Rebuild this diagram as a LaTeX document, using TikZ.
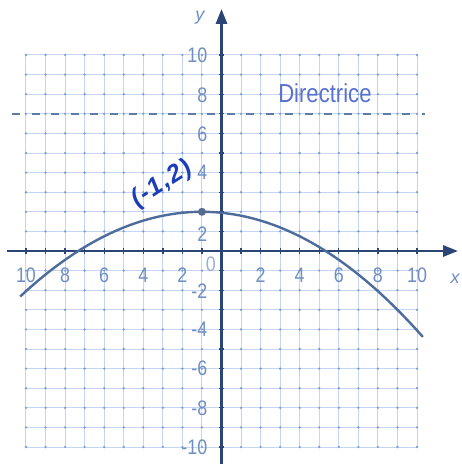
\documentclass[tikz,border=0pt]{standalone}
\usepackage{fontspec}
\setmainfont{Liberation Sans}
\newfontfamily\narrowfont[FakeStretch=0.85]{Liberation Sans}
\usetikzlibrary{arrows.meta}
\definecolor{gridc}{HTML}{C4D6F2}
\definecolor{dotc}{HTML}{7E9DCF}
\definecolor{axisc}{HTML}{2B4676}
\definecolor{labc}{HTML}{6F8EC2}
\definecolor{curvec}{HTML}{4D6C9C}
\definecolor{inkc}{HTML}{1C3DB8}
\tikzset{
  gridline/.style={draw=gridc,line width=1pt},
  gdot/.style={fill=dotc,draw=none},
  axisline/.style={draw=axisc,line width=2.8pt,-{Triangle[length=15pt,width=11pt]}},
  numlab/.style={text=labc,font=\narrowfont\fontsize{21}{21}\selectfont,inner sep=0pt},
  axlab/.style={text=labc,font=\itshape\fontsize{18}{18}\selectfont,inner sep=0pt},
  curve/.style={draw=curvec,line width=2.4pt},
  directrix/.style={draw=curvec!90,line width=2.4pt,dash pattern=on 8pt off 11.5pt},
  handink/.style={text=inkc,font=\bfseries\itshape\fontsize{25}{25}\selectfont,inner sep=0pt}
}
\begin{document}
\begin{tikzpicture}[x=19.55pt,y=19.6pt]
\useasboundingbox[fill=white] (-11.33,-10.867) rectangle (12.251,12.806);
% grid
\foreach \i in {-10,...,10}{
  \draw[gridline] (\i,-10) -- (\i,10);
  \draw[gridline] (-10,\i) -- (10,\i);
}
\foreach \i in {-10,...,10}{
  \foreach \j in {-10,...,10}{
    \fill[gdot] (\i,\j) circle (1.3pt);
  }
}
% directrix
\coordinate (dl) at (-10.7,7);
\coordinate (dr) at (10.4,7);
\draw[directrix] (dl) -- (dr);
\node[text=labc!80!blue,font=\narrowfont\fontsize{26}{26}\selectfont,inner sep=0pt] (dirlab) at (5.29,8.05) {Directrice};
% axes
\coordinate (xl) at (-10.97,0);
\coordinate (xr) at (12.1,0);
\coordinate (yb) at (0,-10.9);
\coordinate (yt) at (0,12.35);
\draw[axisline] (xl) -- (xr);
\draw[axisline] (yb) -- (yt);
\foreach \i in {-10,...,10}{
  \draw[axisc,line width=1.3pt] (\i,-0.15) -- (\i,0.15);
  \draw[axisc,line width=1.3pt] (-0.15,\i) -- (0.15,\i);
}
\node[axlab] (xlab) at (11.95,-1.43) {x};
\node[axlab] (ylab) at (-1.1,11.9) {y};
% x labels
\foreach \v in {2,4,6,8,10}{
  \node[numlab] (xn\v) at (-\v,-1.22) {\v};
  \node[numlab] (xp\v) at (\v,-1.22) {\v};
}
\node[numlab,text=labc!70] (zero) at (-0.55,-0.68) {0};
% y labels
\node[numlab,anchor=east] (y10) at (-0.72,10) {10};
\node[numlab,anchor=east] (y8) at (-0.72,7.95) {8};
\node[numlab,anchor=east] (y6) at (-0.72,5.95) {6};
\node[numlab,anchor=east] (y4) at (-0.72,4) {4};
\node[numlab,anchor=east] (y2) at (-0.72,0.85) {2};
\node[numlab,anchor=east] (yn2) at (-0.72,-2.05) {-2};
\node[numlab,anchor=east] (yn4) at (-0.72,-4) {-4};
\node[numlab,anchor=east] (yn6) at (-0.72,-6) {-6};
\node[numlab,anchor=east] (yn8) at (-0.72,-8) {-8};
\node[numlab,anchor=east] (yn10) at (-0.72,-10) {-10};
% parabola
\draw[curve,domain=-10.3:10.3,samples=80,smooth] plot (\x,{2-(\x+1)*(\x+1)/20});
\fill[axisc!80] (-1,2) circle (4pt);
\node[circle,inner sep=0pt,minimum size=8pt] (vertex) at (-1,2) {};
% handwritten label
\node[handink,rotate=33] (vlab) at (-3.05,3.4) {(\kern1.5pt-\kern1.5pt1\kern1.5pt,\kern1.5pt2\kern1pt)};
\end{tikzpicture}
\end{document}
